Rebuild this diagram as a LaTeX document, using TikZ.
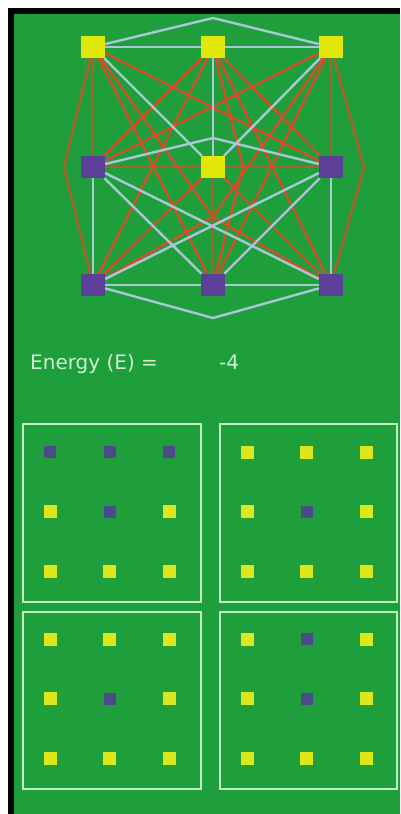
\documentclass[tikz,border=0pt]{standalone}
\usepackage{fontspec}
\setmainfont{DejaVu Sans}
\definecolor{bggreen}{HTML}{1F9E3C}
\definecolor{nodeyellow}{HTML}{E1E80A}
\definecolor{nodepurple}{HTML}{5B3F98}
\definecolor{smyellow}{HTML}{DDE81A}
\definecolor{smpurple}{HTML}{4D4A8C}
\definecolor{edgeblue}{HTML}{A8C8D8}
\definecolor{edgered}{HTML}{DC4A26}
\definecolor{edgebrown}{HTML}{A8622A}
\definecolor{boxline}{HTML}{C4EEC4}
\definecolor{labelcol}{HTML}{CDF0CD}
\pgfdeclarelayer{bg}
\pgfdeclarelayer{edges}
\pgfsetlayers{bg,edges,main}
\begin{document}
\begin{tikzpicture}[x=1pt,y=-1pt,
  bignode/.style={rectangle,inner sep=0pt,minimum width=24pt,minimum height=22pt},
  bigY/.style={bignode,fill=nodeyellow},
  bigP/.style={bignode,fill=nodepurple},
  smallY/.style={rectangle,inner sep=0pt,minimum width=13pt,minimum height=13pt,fill=smyellow},
  smallP/.style={rectangle,inner sep=0pt,minimum width=12pt,minimum height=12pt,fill=smpurple},
  same/.style={draw=edgeblue,line width=2.4pt},
  diff/.style={draw=edgered,line width=2.2pt},
  diffo/.style={draw=edgebrown,line width=2.6pt},
  frame/.style={draw=boxline,line width=2.2pt},
  lbl/.style={text=labelcol,font=\fontsize{20}{24}\selectfont,inner sep=0pt,anchor=base west}]
\begin{pgfonlayer}{bg}
  \fill[white] (0,0) rectangle (400,814);
  \fill[black] (8,8) rectangle (400,814);
  \fill[bggreen] (14,14) rectangle (400,814);
\end{pgfonlayer}
\useasboundingbox (0,0) rectangle (400,814);

% network nodes
\node[bigY] (TL) at (93,47) {};
\node[bigY] (TM) at (213,47) {};
\node[bigY] (TR) at (331,47) {};
\node[bigP] (ML) at (93,167) {};
\node[bigY] (C)  at (213,167) {};
\node[bigP] (MR) at (331,167) {};
\node[bigP] (BL) at (93,285) {};
\node[bigP] (BM) at (213,285) {};
\node[bigP] (BR) at (331,285) {};

% bend points
\coordinate (bTop) at (213,18);
\coordinate (bBot) at (213,318);
\coordinate (bLeft) at (64,167);
\coordinate (bRight) at (364,167);
\coordinate (bMid) at (213,138);
\coordinate (bDiag) at (213,217);
\coordinate (bVert) at (243,167);

\begin{pgfonlayer}{edges}
  % disagreeing pairs
  \draw[diffo] (TL) -- (ML);
  \draw[diffo] (TR) -- (MR);
  \draw[diffo] (ML) -- (C);
  \draw[diffo] (C) -- (MR);
  \draw[diffo] (C) -- (BM);
  \draw[diffo] (TL) -- (bLeft) -- (BL);
  \draw[diffo] (TR) -- (bRight) -- (BR);
  \draw[diff] (TL) -- (MR);
  \draw[diff] (TL) -- (BM);
  \draw[diff] (TM) -- (BL);
  \draw[diff] (TM) -- (BR);
  \draw[diff] (TR) -- (ML);
  \draw[diff] (TR) -- (BM);
  \draw[diff] (TM) -- (ML);
  \draw[diff] (TM) -- (MR);
  \draw[diff] (C) -- (BL);
  \draw[diff] (C) -- (BR);
  \draw[diff] (TM) -- (bVert) -- (BM);
  \draw[diff] (TL) -- (bDiag) -- (BR);
  \draw[diff] (TR) -- (bDiag) -- (BL);
  % agreeing pairs
  \draw[same] (TL) -- (TM);
  \draw[same] (TM) -- (TR);
  \draw[same] (BL) -- (BM);
  \draw[same] (BM) -- (BR);
  \draw[same] (ML) -- (BL);
  \draw[same] (MR) -- (BR);
  \draw[same] (TM) -- (C);
  \draw[same] (TL) -- (C);
  \draw[same] (TR) -- (C);
  \draw[same] (ML) -- (BM);
  \draw[same] (MR) -- (BM);
  \draw[same] (ML) -- (BR);
  \draw[same] (MR) -- (BL);
  \draw[same] (TL) -- (bTop) -- (TR);
  \draw[same] (BL) -- (bBot) -- (BR);
  \draw[same] (ML) -- (bMid) -- (MR);
\end{pgfonlayer}

% energy label
\node[lbl] (elabel) at (30,369) {Energy (E) =};
\node[lbl] (evalue) at (219,369) {-4};

% pattern boxes
\draw[frame] (23,424) rectangle (201,602);
\draw[frame] (220,424) rectangle (397,602);
\draw[frame] (23,612) rectangle (201,789);
\draw[frame] (220,612) rectangle (397,789);

\foreach \bx/\ox/\oy/\pat in {1/50/452/{P,P,P,Y,P,Y,Y,Y,Y},2/247/452/{Y,Y,Y,Y,P,Y,Y,Y,Y},3/50/639/{Y,Y,Y,Y,P,Y,Y,Y,Y},4/247/639/{Y,P,Y,Y,P,Y,Y,Y,Y}}{
  \foreach \c [count=\i from 0] in \pat {
    \pgfmathtruncatemacro{\cc}{mod(\i,3)}
    \pgfmathtruncatemacro{\rr}{int(\i/3)}
    \node[small\c] (s\bx-\i) at ({\ox+\cc*59.5},{\oy+\rr*59.8}) {};
  }
}
\end{tikzpicture}
\end{document}
